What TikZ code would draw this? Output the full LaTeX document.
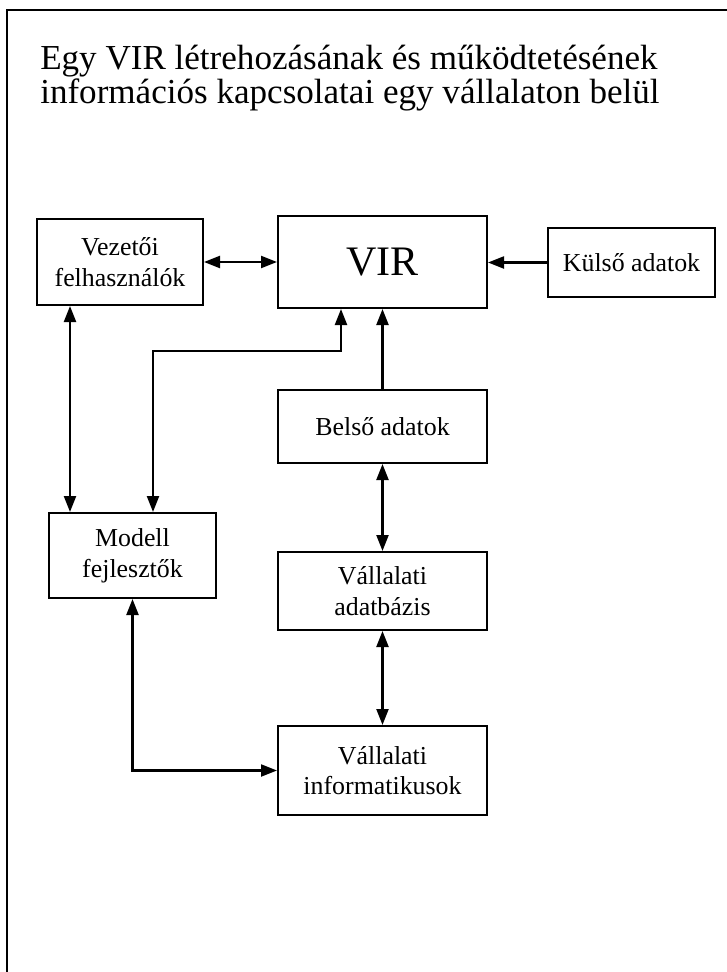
\documentclass[tikz,border=0pt]{standalone}
\usepackage{fontspec}
\setmainfont{Liberation Serif}
\usepackage{tikz}
\usetikzlibrary{positioning,arrows.meta,calc}

\begin{document}
\begin{tikzpicture}[
  x=0.75pt, y=-0.75pt,
  box/.style={draw, line width=1.5pt, align=center, inner sep=0pt,
              font=\fontsize{19.4}{23}\selectfont},
  link/.style={line width=1.6pt},
  >={Triangle[length=12pt,width=9pt]}
]
\useasboundingbox (0,0) rectangle (727,972);
% frame, cut off at the right and bottom edges
\draw[line width=1.6pt] (7,972) -- (7,10) -- (727,10);

\node[anchor=base west, align=left, inner sep=0pt,
      font=\fontsize{26.3}{23.5}\selectfont] (title) at (40,103)
  {Egy VIR létrehozásának és működtetésének\\információs kapcsolatai egy vállalaton belül};

\node[box, minimum width=124.5pt, minimum height=64.5pt] (vez) at (120,262) {Vezetői\\felhasználók};
\node[box, minimum width=156.75pt, minimum height=69pt,
      font=\fontsize{31.5}{36}\selectfont] (vir) at (382.5,262) {VIR};
\node[box, minimum width=125.25pt, minimum height=51.75pt] (kulso) at (631.5,262.5) {Külső adatok};
\node[box, minimum width=156.75pt, minimum height=54.75pt] (belso) at (382.5,426.5) {Belső adatok};
\node[box, minimum width=125.25pt, minimum height=63.75pt] (modell) at (132.5,555.5) {Modell\\fejlesztők};
\node[box, minimum width=156.75pt, minimum height=58.5pt] (adatb) at (382.5,591) {Vállalati\\adatbázis};
\node[box, minimum width=156.75pt, minimum height=66.75pt] (infor) at (382.5,770.5) {Vállalati\\informatikusok};

% helper points for the elbow links
\coordinate (mA) at (70,0);
\coordinate (vB) at (341,351);
\coordinate (mB) at (153,351);

\draw[link, <->] (vez) -- (vir);
\draw[link, ->] (kulso.west) -- (kulso.west -| vir.east);
\draw[link, ->] (belso) -- (vir);
\draw[link, <->] (belso) -- (adatb);
\draw[link, <->] (adatb) -- (infor);
\draw[link, <->] (vez.south -| mA) -- (modell.north -| mA);
\draw[link, <->] (vir.south -| vB) -- (vB) -| (modell.north -| mB);
\draw[link, <->] (modell) |- (infor);
\end{tikzpicture}
\end{document}
